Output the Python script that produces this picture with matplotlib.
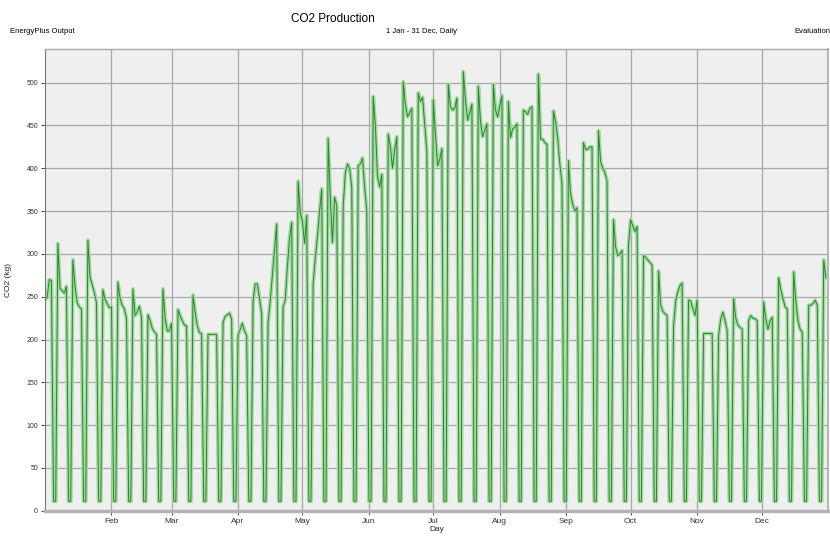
import numpy as np
import matplotlib
matplotlib.use("Agg")
import matplotlib.pyplot as plt

plt.rcParams['font.family'] = ['Liberation Sans', 'DejaVu Sans']

# daily CO2 production (kg), one list per month; weekends drop to ~11 kg
jan = [247, 249, 270, 269, 11, 11, 312, 260, 257, 254, 262, 11, 11,
       293, 262, 243, 238, 236, 11, 11, 316, 273, 264, 255, 243, 11, 11,
       258, 247, 242, 237]
feb = [238, 11, 11, 267, 248, 240, 236, 224, 11, 11, 259, 228, 232, 239, 226,
       11, 11, 229, 222, 213, 209, 206, 11, 11, 259, 225, 210, 210]
mar = [219, 11, 11, 235, 228, 222, 217, 216, 11, 11, 252, 232, 216, 208, 207,
       11, 11, 206, 206, 206, 206, 206, 11, 11, 220, 227, 229, 231, 224, 11, 11]
apr = [205, 212, 219, 210, 205, 11, 11, 245, 265, 265, 248, 230, 11, 11,
       220, 245, 275, 305, 335, 11, 11, 238, 246, 285, 318, 337, 11, 11,
       385, 348]
may = [338, 312, 345, 11, 11, 265, 295, 320, 350, 376, 11, 11,
       435, 365, 313, 366, 357, 11, 11, 355, 395, 405, 400, 378, 11, 11,
       403, 405, 412, 378, 350]
jun = [11, 11, 484, 450, 390, 378, 393, 11, 11, 440, 425, 400, 422, 437,
       11, 11, 501, 475, 460, 465, 470, 11, 11, 488, 478, 483, 452, 420, 11, 11]
jul = [480, 440, 403, 410, 423, 11, 11, 498, 472, 468, 470, 482, 11, 11,
       513, 480, 456, 465, 475, 11, 11, 496, 455, 437, 444, 452, 11, 11,
       498, 468, 460]
aug = [473, 485, 11, 11, 478, 436, 446, 448, 452, 11, 11, 468, 466, 463, 470,
       472, 11, 11, 510, 434, 434, 430, 428, 11, 11, 467, 455, 435, 405, 382, 11]
sep = [11, 409, 370, 358, 350, 354, 11, 11, 430, 422, 422, 425, 425, 11, 11,
       444, 408, 400, 395, 385, 11, 11, 340, 308, 298, 300, 304, 11, 11, 310]
oct_ = [340, 333, 326, 332, 11, 11, 298, 296, 293, 290, 287, 11, 11,
        280, 240, 233, 230, 228, 11, 11, 215, 245, 256, 263, 266, 11, 11,
        246, 245, 236, 228]
nov = [246, 11, 11, 207, 207, 207, 207, 207, 11, 11, 205, 224, 232, 222, 210,
       11, 11, 248, 225, 217, 214, 212, 11, 11, 222, 228, 225, 224, 222, 11]
dec = [11, 244, 224, 212, 222, 226, 11, 11, 272, 258, 248, 238, 236, 11, 11,
       279, 245, 222, 212, 209, 11, 11, 240, 240, 242, 246, 240, 11, 11,
       293, 272]

month_labels = ["Feb", "Mar", "Apr", "May", "Jun", "Jul", "Aug", "Sep", "Oct", "Nov", "Dec"]

months = [jan, feb, mar, apr, may, jun, jul, aug, sep, oct_, nov, dec]
co2 = np.concatenate([np.array(m, dtype=float) for m in months])
day = np.arange(len(co2))
month_starts = np.cumsum([len(m) for m in months])[:-1]

fig = plt.figure(figsize=(8.3, 5.38), dpi=100)
ax = fig.add_axes([0.0542, 0.0507, 0.9434, 0.8577])
ax.set_facecolor('#efefef')

# light halo under a thin dark green line, like the original chart
ax.plot(day, co2, color='#a3daa3', lw=2.8)
ax.plot(day, co2, color='#2a862a', lw=0.7)

ax.set_xlim(0, 365)
ax.set_ylim(0, 539)
ax.set_yticks(np.arange(0, 501, 50))
ax.set_xticks(month_starts)
ax.set_xticklabels(month_labels)
ax.grid(True, color='#a8a8a8', lw=0.9)
ax.set_axisbelow(True)

ax.tick_params(axis='y', labelsize=5, length=3, width=0.6, pad=2, colors='#333333')
ax.tick_params(axis='x', labelsize=6, length=3, width=0.6, pad=2, colors='#333333')
ax.set_ylabel("CO2 (kg)", fontsize=6, labelpad=10, color='#222222')
ax.set_xlabel("Day", fontsize=6, labelpad=1, color='#222222')

ax.spines['top'].set_color('#a8a8a8')
ax.spines['top'].set_linewidth(1)
ax.spines['right'].set_color('#b8b8b8')
ax.spines['right'].set_linewidth(1.5)
ax.spines['bottom'].set_color('#b4b4b4')
ax.spines['bottom'].set_linewidth(2.5)
ax.spines['left'].set_color('#777777')
ax.spines['left'].set_linewidth(0.8)

fig.text(0.401, 0.965, "CO2 Production", ha='center', va='center', fontsize=8.5)
fig.text(0.508, 0.942, "1 Jan - 31 Dec, Daily", ha='center', va='center', fontsize=5.5)
fig.text(0.012, 0.942, "EnergyPlus Output", ha='left', va='center', fontsize=5.5)
fig.text(0.957, 0.942, "Evaluation", ha='left', va='center', fontsize=5.5)

fig.savefig("out.png", dpi=100)
plt.close(fig)
